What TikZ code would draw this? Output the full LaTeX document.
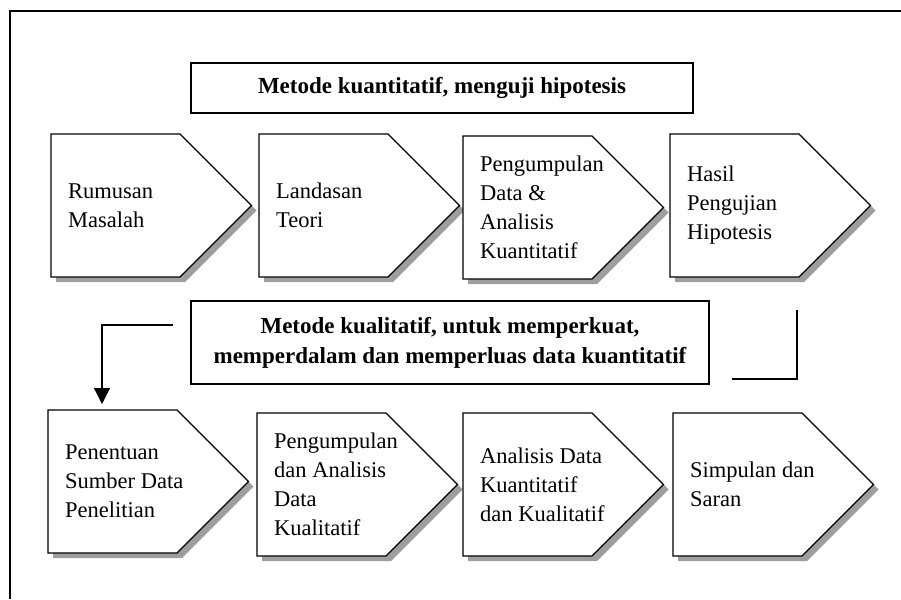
\documentclass[tikz,border=0pt]{standalone}
\usepackage{fontspec}
\setmainfont{Liberation Serif}
\usetikzlibrary{arrows.meta}
\tikzset{
  shp/.style={draw=black, line width=1.2pt, fill=white, line join=miter},
  shd/.style={fill=black!38},
  lbl/.style={anchor=west, align=left, font=\fontsize{22.5}{29}\selectfont, inner sep=0pt},
  ttl/.style={draw, line width=1.6pt, align=center, font=\fontsize{23}{30}\selectfont\bfseries, inner sep=0pt},
  conn/.style={line width=1.2pt},
  frame/.style={line width=1.5pt},
}
\newcommand\pentshape[3]{%
  \fill[shd] ({#2+5},{#3+5}) -- ++(129,0) -- ++(71.5,71.5) -- ++(-71.5,71.5) -- ++(-129,0) -- cycle;
  \draw[shp] (#2,#3) -- ++(129,0) -- ++(71.5,71.5) -- ++(-71.5,71.5) -- ++(-129,0) -- cycle;
  \coordinate (#1) at ({#2+17},{#3+71.5});
}
\begin{document}
\begin{tikzpicture}[x=1pt,y=-1pt]
\useasboundingbox (0,0) rectangle (901,599);
\draw[frame] (10,599) -- (10,11) -- (901,11);

\node[ttl, minimum width=502pt, minimum height=50pt] (m1) at (442,88) {Metode kuantitatif, menguji hipotesis};
\node[ttl, minimum width=518pt, minimum height=83pt] (m2) at (450,342.5) {Metode kualitatif, untuk memperkuat,\\memperdalam dan memperluas data kuantitatif};

\pentshape{p1}{51}{134}
\pentshape{p2}{259}{134}
\pentshape{p3}{463}{136}
\pentshape{p4}{670}{134}
\pentshape{q1}{48}{410}
\pentshape{q2}{257}{413}
\pentshape{q3}{463}{413}
\pentshape{q4}{673}{413}

\node[lbl] (t1) at (p1) {Rumusan\\Masalah};
\node[lbl] (t2) at (p2) {Landasan\\Teori};
\node[lbl] (t3) at (p3) {Pengumpulan\\Data \&\\Analisis\\Kuantitatif};
\node[lbl] (t4) at (p4) {Hasil\\Pengujian\\Hipotesis};
\node[lbl] (u1) at (q1) {Penentuan\\Sumber Data\\Penelitian};
\node[lbl] (u2) at (q2) {Pengumpulan\\dan Analisis\\Data\\Kualitatif};
\node[lbl] (u3) at (q3) {Analisis Data\\Kuantitatif\\dan Kualitatif};
\node[lbl] (u4) at (q4) {Simpulan dan\\Saran};

\coordinate (ls) at (173,325);
\coordinate (le) at (102,404);
\draw[conn, -{Triangle[length=16pt,width=16pt]}] (ls) -| (le);
\coordinate (rs) at (797,310);
\coordinate (re) at (732,379);
\draw[conn] (rs) |- (re);
\end{tikzpicture}
\end{document}
